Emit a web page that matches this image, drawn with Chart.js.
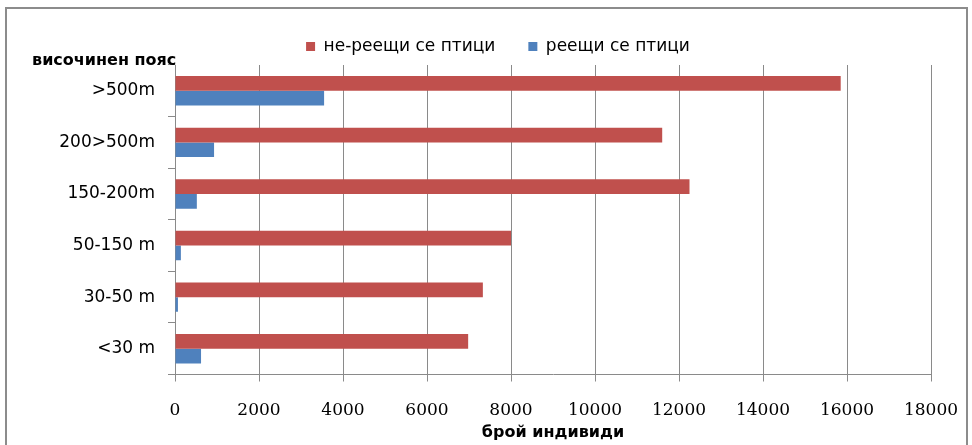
<!DOCTYPE html>
<html>
<head>
<meta charset="utf-8">
<script src="https://cdn.jsdelivr.net/npm/chart.js@4/dist/chart.umd.min.js"></script>
<style>
  html, body { margin: 0; padding: 0; background: #fff; }
  #wrap { width: 972px; height: 445px; position: relative; }
</style>
</head>
<body>
<div id="wrap"><canvas id="c" width="972" height="445"></canvas></div>
<script>
// Altitude belts (top to bottom)
const belts = ['>500m', '200>500m', '150-200m', '50-150 m', '30-50 m', '<30 m'];
// Non-soaring birds (count of individuals)
const nonSoaring = [15850, 11600, 12250, 8000, 7330, 6980];
// Soaring birds (count of individuals)
const soaring = [3550, 930, 520, 140, 70, 620];
// Value axis ticks
const xTicks = [0, 2000, 4000, 6000, 8000, 10000, 12000, 14000, 16000, 18000];

const seriesNames = ['не-реещи се птици', 'реещи се птици'];
const yTitle = 'височинен пояс';
const xTitle = 'брой индивиди';

const GRID = '#8a8a8a';
const PAD_LEFT = 55;

// Outer frame and the horizontal y-axis caption
const framePlugin = {
  id: 'frame',
  beforeDraw(chart) {
    const ctx = chart.ctx;
    ctx.save();
    ctx.fillStyle = '#fff';
    ctx.fillRect(0, 0, chart.width, chart.height);
    ctx.strokeStyle = '#8c8c8c';
    ctx.lineWidth = 2;
    ctx.strokeRect(6, 8, 961, 470);
    ctx.restore();
  },
  afterDraw(chart) {
    const ctx = chart.ctx;
    ctx.save();
    ctx.font = 'bold 16px "DejaVu Sans"';
    ctx.fillStyle = '#000';
    ctx.textBaseline = 'middle';
    ctx.textAlign = 'left';
    ctx.fillText(yTitle, 32, 61);
    ctx.restore();
  }
};

new Chart(document.getElementById('c'), {
  type: 'bar',
  data: {
    labels: belts,
    datasets: [
      { label: seriesNames[0], data: nonSoaring, backgroundColor: '#C0504D' },
      { label: seriesNames[1], data: soaring, backgroundColor: '#4F81BD' }
    ]
  },
  plugins: [framePlugin],
  options: {
    indexAxis: 'y',
    responsive: false,
    animation: false,
    devicePixelRatio: 1,
    datasets: { bar: { categoryPercentage: 0.57, barPercentage: 1.0 } },
    layout: { padding: { left: PAD_LEFT, right: 31, top: 5, bottom: 0 } },
    plugins: {
      legend: {
        display: true,
        position: 'top',
        labels: {
          font: { family: 'DejaVu Sans', size: 17 },
          color: '#000',
          boxWidth: 9,
          boxHeight: 9,
          padding: 33
        }
      },
      tooltip: { enabled: false },
      title: { display: false }
    },
    scales: {
      x: {
        min: 0,
        max: 18000,
        afterBuildTicks(scale) { scale.ticks = xTicks.map(v => ({ value: v })); },
        afterFit(scale) { scale.height = 70.5; scale.paddingRight = 41; },
        grid: { color: GRID, lineWidth: 1, tickLength: 7, drawTicks: true, tickColor: GRID },
        border: { display: true, color: GRID, width: 1 },
        ticks: {
          font: { family: 'DejaVu Serif', size: 17, lineHeight: '58px' },
          color: '#000',
          padding: 0,
          maxRotation: 0,
          autoSkip: false,
          callback: v => String(v)
        },
        title: {
          display: true,
          text: xTitle,
          font: { family: 'DejaVu Sans', size: 16, weight: 'bold' },
          color: '#000',
          padding: { top: 0, bottom: 3 }
        }
      },
      y: {
        afterFit(scale) { scale.width = 175 - PAD_LEFT; },
        grid: { drawOnChartArea: false, offset: true, tickLength: 7, tickColor: GRID },
        border: { display: true, color: GRID, width: 1 },
        ticks: {
          font: { family: 'DejaVu Sans', size: 17 },
          color: '#000',
          padding: 13
        }
      }
    }
  }
});
</script>
</body>
</html>
